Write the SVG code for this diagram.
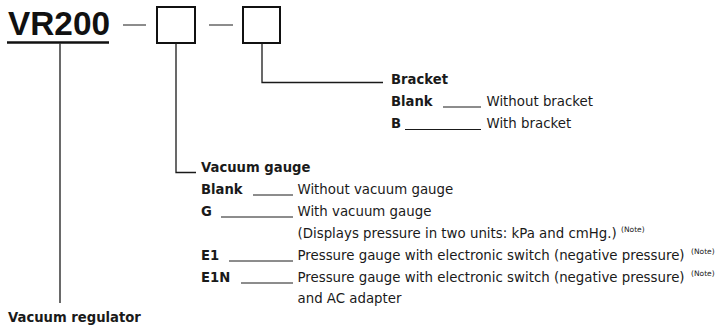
<svg xmlns="http://www.w3.org/2000/svg" width="715" height="327" viewBox="0 0 715 327">
<style>
.b{font-family:"DejaVu Sans",sans-serif;font-weight:bold;font-size:13.2px;fill:#1a1a1a}
.r{font-family:"DejaVu Sans",sans-serif;font-size:13.35px;fill:#1a1a1a}
.n{font-family:"DejaVu Sans",sans-serif;font-size:7.5px;fill:#1a1a1a}
.t{font-family:"Liberation Sans",Arial,sans-serif;font-weight:bold;font-size:34px;fill:#111}
.c{fill:none;stroke:#1a1a1a;stroke-width:1.3}
.l{fill:none;stroke:#1a1a1a;stroke-width:1}
.box{fill:#fff;stroke:#111;stroke-width:2}
</style>
<rect width="715" height="327" fill="#fff"/>
<g id="model">
<text class="t" x="8" y="34.5" textLength="102" lengthAdjust="spacingAndGlyphs">VR200</text>
<line x1="7" y1="42.5" x2="109" y2="42.5" stroke="#111" stroke-width="2.6"/>
<line class="l" x1="123" y1="25" x2="146" y2="25"/>
<line class="l" x1="209" y1="25" x2="233" y2="25"/>
</g>
<g id="box1"><rect class="box" x="157" y="7" width="38" height="36"/></g>
<g id="box2"><rect class="box" x="243" y="7" width="37" height="36"/></g>
<g id="connectors">
<path class="c" d="M60 43.5V303"/>
<path class="c" d="M176 43V172.5H196"/>
<path class="c" d="M262 43V82.5H383"/>
</g>
<g id="bracket">
<text class="b" x="391" y="83.5">Bracket</text>
<text class="b" x="391" y="105.5">Blank</text>
<line class="l" x1="443" y1="107" x2="481" y2="107"/>
<text class="r" x="486.5" y="105.5">Without bracket</text>
<text class="b" x="391" y="128">B</text>
<line class="l" x1="405" y1="129.5" x2="481" y2="129.5"/>
<text class="r" x="486.5" y="128">With bracket</text>
</g>
<g id="vacuum-gauge">
<text class="b" x="201" y="171.5">Vacuum gauge</text>
<text class="b" x="201" y="193.5">Blank</text>
<line class="l" x1="253" y1="195" x2="293" y2="195"/>
<text class="r" x="297.5" y="193.5">Without vacuum gauge</text>
<text class="b" x="201" y="215.5">G</text>
<line class="l" x1="221" y1="217" x2="293" y2="217"/>
<text class="r" x="297.5" y="215.5">With vacuum gauge</text>
<text class="r" x="297.5" y="237.5">(Displays pressure in two units: kPa and cmHg.)</text>
<text class="n" x="621" y="232">(Note)</text>
<text class="b" x="201" y="259.5">E1</text>
<line class="l" x1="229" y1="261" x2="293" y2="261"/>
<text class="r" x="297.5" y="259.5">Pressure gauge with electronic switch (negative pressure)</text>
<text class="n" x="691" y="254">(Note)</text>
<text class="b" x="201" y="281.5">E1N</text>
<line class="l" x1="241" y1="283" x2="293" y2="283"/>
<text class="r" x="297.5" y="281.5">Pressure gauge with electronic switch (negative pressure)</text>
<text class="n" x="691" y="276">(Note)</text>
<text class="r" x="297.5" y="303">and AC adapter</text>
</g>
<g id="vacuum-regulator">
<text class="b" x="8" y="322">Vacuum regulator</text>
</g>
</svg>
